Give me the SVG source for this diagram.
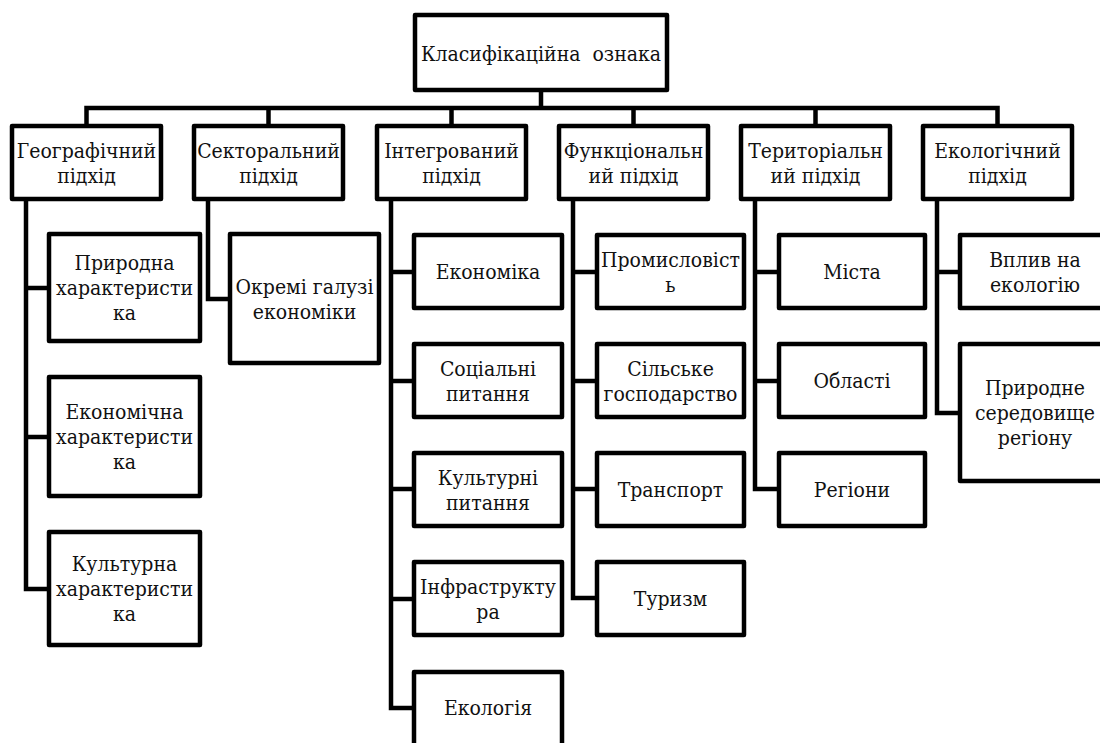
<svg xmlns="http://www.w3.org/2000/svg" width="1100" height="743" viewBox="0 0 1100 743">
<style>
.box{fill:#fff;stroke:#000;stroke-width:4.5;stroke-linejoin:round}
.ln{fill:none;stroke:#000;stroke-width:4.5;stroke-linejoin:miter;stroke-linecap:square}
.t text{font-family:'DejaVu Serif Condensed','DejaVu Serif',serif;font-stretch:condensed;font-size:21px;fill:#111;text-anchor:middle}
</style>
<rect width="1100" height="743" fill="#fff"/>
<g id="connectors">
<path class="ln" d="M541,90 V108 M86.5,126 V108 H997.5 V126 M268.5,108 V126 M451.5,108 V126 M633.5,108 V126 M815.5,108 V126"/>
<path class="ln" d="M26,199 V589 H49 M26,288 H49 M26,437 H49"/>
<path class="ln" d="M208,199 V299 H230"/>
<path class="ln" d="M391,199 V708 H414 M391,272 H414 M391,381 H414 M391,489 H414 M391,599 H414"/>
<path class="ln" d="M573,199 V598 H597 M573,272 H597 M573,381 H597 M573,489 H597"/>
<path class="ln" d="M755,199 V489 H779 M755,272 H779 M755,381 H779"/>
<path class="ln" d="M937,199 V413 H960 M937,272 H960"/>
</g>
<g id="nodes" class="t">
<g id="root"><rect class="box" x="415" y="15" width="252" height="75"/><text x="541" y="61" xml:space="preserve">Класифікаційна  ознака</text></g>
<g id="geo"><rect class="box" x="12" y="126" width="149" height="73"/><text x="86.5" y="158">Географічний</text><text x="86.5" y="183">підхід</text></g>
<g id="sect"><rect class="box" x="194" y="126" width="149" height="73"/><text x="268.5" y="158">Секторальний</text><text x="268.5" y="183">підхід</text></g>
<g id="integr"><rect class="box" x="377" y="126" width="149" height="73"/><text x="451.5" y="158">Інтегрований</text><text x="451.5" y="183">підхід</text></g>
<g id="func"><rect class="box" x="559" y="126" width="149" height="73"/><text x="633.5" y="158">Функціональн</text><text x="633.5" y="183">ий підхід</text></g>
<g id="terr"><rect class="box" x="741" y="126" width="149" height="73"/><text x="815.5" y="158">Територіальн</text><text x="815.5" y="183">ий підхід</text></g>
<g id="ecol"><rect class="box" x="923" y="126" width="149" height="73"/><text x="997.5" y="158">Екологічний</text><text x="997.5" y="183">підхід</text></g>
<g id="geo1"><rect class="box" x="49" y="234" width="151" height="107"/><text x="124.5" y="270">Природна</text><text x="124.5" y="295">характеристи</text><text x="124.5" y="320">ка</text></g>
<g id="geo2"><rect class="box" x="49" y="377" width="151" height="119"/><text x="124.5" y="419">Економічна</text><text x="124.5" y="444">характеристи</text><text x="124.5" y="469">ка</text></g>
<g id="geo3"><rect class="box" x="49" y="532" width="151" height="113"/><text x="124.5" y="571">Культурна</text><text x="124.5" y="596">характеристи</text><text x="124.5" y="621">ка</text></g>
<g id="sect1"><rect class="box" x="230" y="234" width="149" height="129"/><text x="304.5" y="294">Окремі галузі</text><text x="304.5" y="319">економіки</text></g>
<g id="int1"><rect class="box" x="414" y="235" width="148" height="73"/><text x="488" y="279">Економіка</text></g>
<g id="int2"><rect class="box" x="414" y="344" width="148" height="73"/><text x="488" y="376">Соціальні</text><text x="488" y="401">питання</text></g>
<g id="int3"><rect class="box" x="414" y="453" width="148" height="73"/><text x="488" y="485">Культурні</text><text x="488" y="510">питання</text></g>
<g id="int4"><rect class="box" x="414" y="562" width="148" height="73"/><text x="488" y="594">Інфраструкту</text><text x="488" y="619">ра</text></g>
<g id="int5"><rect class="box" x="414" y="672" width="148" height="100"/><text x="488" y="715">Екологія</text></g>
<g id="fun1"><rect class="box" x="597" y="235" width="147" height="73"/><text x="670.5" y="267">Промисловіст</text><text x="670.5" y="292">ь</text></g>
<g id="fun2"><rect class="box" x="597" y="344" width="147" height="73"/><text x="670.5" y="376">Сільське</text><text x="670.5" y="401">господарство</text></g>
<g id="fun3"><rect class="box" x="597" y="453" width="147" height="73"/><text x="670.5" y="497">Транспорт</text></g>
<g id="fun4"><rect class="box" x="597" y="562" width="147" height="73"/><text x="670.5" y="606">Туризм</text></g>
<g id="ter1"><rect class="box" x="779" y="235" width="146" height="73"/><text x="852" y="279">Міста</text></g>
<g id="ter2"><rect class="box" x="779" y="344" width="146" height="73"/><text x="852" y="388">Області</text></g>
<g id="ter3"><rect class="box" x="779" y="453" width="146" height="73"/><text x="852" y="497">Регіони</text></g>
<g id="eco1"><rect class="box" x="960" y="235" width="150" height="73"/><text x="1035" y="267">Вплив на</text><text x="1035" y="292">екологію</text></g>
<g id="eco2"><rect class="box" x="960" y="344" width="150" height="137"/><text x="1035" y="395">Природне</text><text x="1035" y="420">середовище</text><text x="1035" y="445">регіону</text></g>
</g>
</svg>
